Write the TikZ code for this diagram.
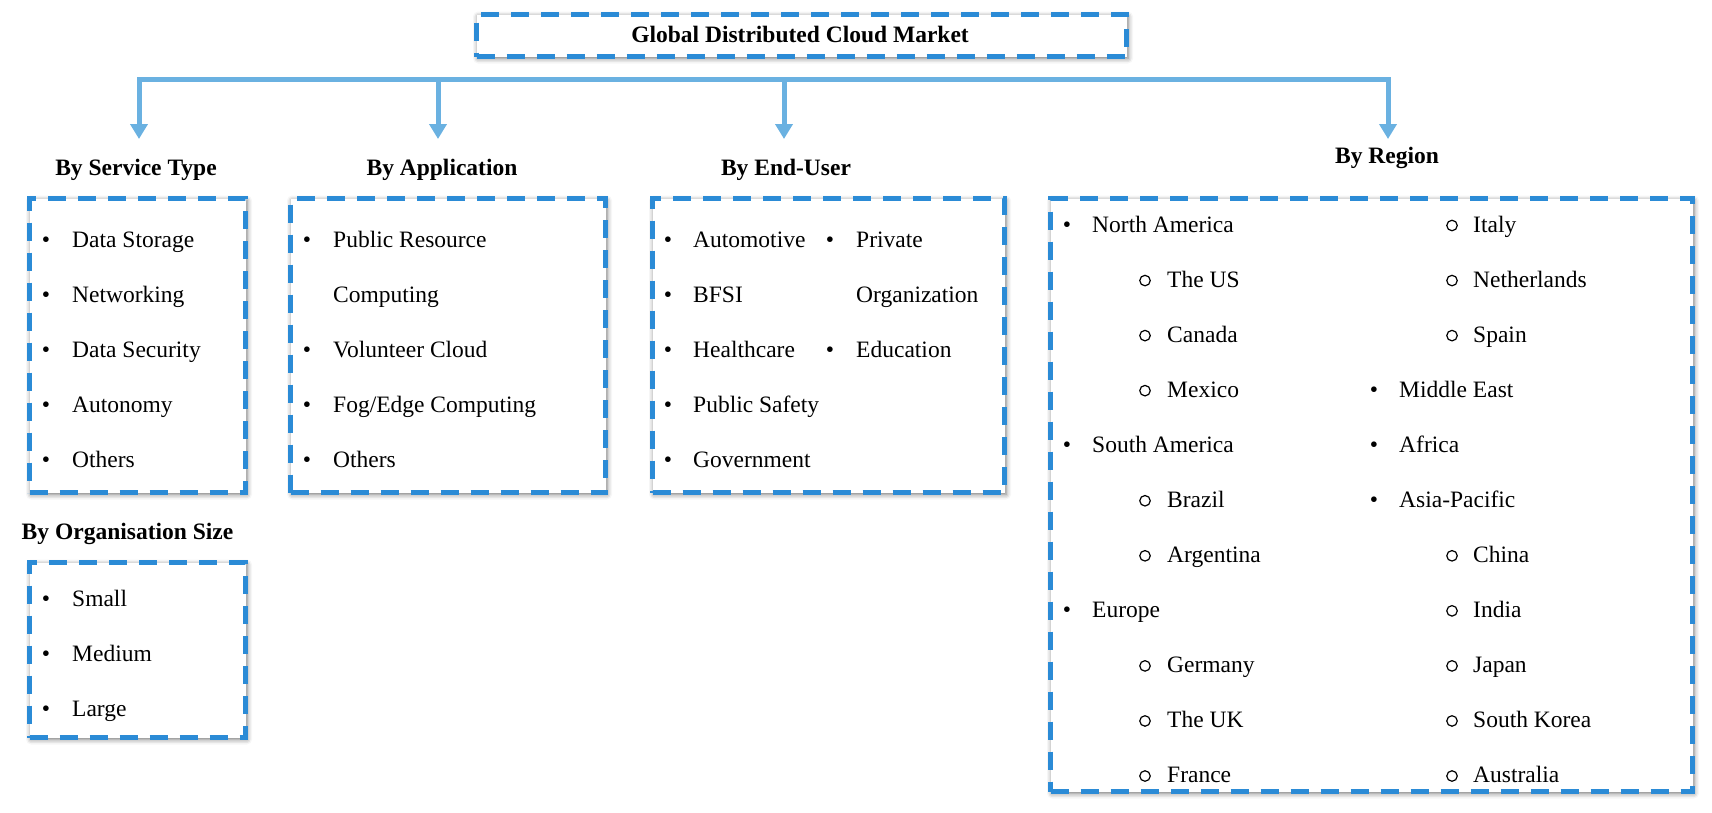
\documentclass[tikz,border=0pt]{standalone}
\usepackage{fontspec}
\setmainfont{Liberation Serif}
\usetikzlibrary{arrows.meta,shadows.blur}
\definecolor{dashblue}{HTML}{2B8BD6}
\definecolor{arrblue}{HTML}{6AB1E1}
\begin{document}
\begin{tikzpicture}[x=1pt,y=-1pt,
  every node/.style={font=\fontsize{23.5pt}{28pt}\selectfont, inner sep=0pt},
  box/.style={draw=dashblue, line width=5pt, dash pattern=on 18pt off 12pt, fill=white, anchor=north west,
    blur shadow={shadow xshift=1.5pt, shadow yshift=-2pt, shadow blur radius=5pt, shadow opacity=55}},
  head/.style={font=\fontsize{23.5pt}{28pt}\selectfont\bfseries, anchor=base},
  item/.style={anchor=base west},
  bul/.style={anchor=base},
  sub/.style={circle, draw=black, line width=1.2pt, minimum size=10.5pt},
  arr/.style={draw=arrblue, line width=5pt, -{Triangle[width=17pt,length=15pt]}}
]
\useasboundingbox (0,0) rectangle (1712,812);

% title
\node[box, minimum width=650pt, minimum height=42pt] (titlebox) at (474,12) {};
\node[head] (title) at (800,42) {Global Distributed Cloud Market};

% connectors
\coordinate (a1) at (139,79);
\coordinate (a2) at (438,79);
\coordinate (a3) at (784,79);
\coordinate (a4) at (1388,79);
\coordinate (e1) at (139,139);
\coordinate (e2) at (438,139);
\coordinate (e3) at (784,139);
\coordinate (e4) at (1388,139);
\draw[arr] (a4) -| (e1);
\draw[arr] (a1) -| (e4);
\draw[arr] (a2) -- (e2);
\draw[arr] (a3) -- (e3);

% headings
\node[head] (hsvc) at (136,175) {By Service Type};
\node[head] (happ) at (442,175) {By Application};
\node[head] (hend) at (786,175) {By End-User};
\node[head] (hreg) at (1387,163) {By Region};
\node[head] (horg) at (127.5,539) {By Organisation Size};

% boxes
\node[box, minimum width=216pt, minimum height=294pt] (svc) at (27,196) {};
\node[box, minimum width=315pt, minimum height=294pt] (app) at (288,196) {};
\node[box, minimum width=352pt, minimum height=294pt] (end) at (650,196) {};
\node[box, minimum width=642pt, minimum height=593pt] (reg) at (1048,196) {};
\node[box, minimum width=216pt, minimum height=175pt] (org) at (27,560) {};

% service type
\foreach \t [count=\i from 0] in {Data Storage,Networking,Data Security,Autonomy,Others}{
  \node[bul] (svcb\i) at (46,247+55.1*\i) {\textbullet};
  \node[item] (svct\i) at (72,247+55.1*\i) {\t};
}
% organisation
\foreach \t [count=\i from 0] in {Small,Medium,Large}{
  \node[bul] (orgb\i) at (46,606+55.1*\i) {\textbullet};
  \node[item] (orgt\i) at (72,606+55.1*\i) {\t};
}
% application
\foreach \t/\b [count=\i from 0] in {Public Resource/1,Computing/0,Volunteer Cloud/1,{Fog/Edge Computing}/1,Others/1}{
  \ifnum\b=1 \node[bul] (appb\i) at (307,247+55.1*\i) {\textbullet};\fi
  \node[item] (appt\i) at (333,247+55.1*\i) {\t};
}
% end-user
\foreach \t [count=\i from 0] in {Automotive,BFSI,Healthcare,Public Safety,Government}{
  \node[bul] (endb\i) at (668,247+55.1*\i) {\textbullet};
  \node[item] (endt\i) at (693,247+55.1*\i) {\t};
}
\node[bul] (endc0) at (830,247) {\textbullet};
\node[item] (endd0) at (856,247) {Private};
\node[item] (endd1) at (856,302.1) {Organization};
\node[bul] (endc2) at (830,357.2) {\textbullet};
\node[item] (endd2) at (856,357.2) {Education};

% region column 1
\foreach \t/\l [count=\i from 0] in {North America/0,The US/1,Canada/1,Mexico/1,South America/0,Brazil/1,Argentina/1,Europe/0,Germany/1,The UK/1,France/1}{
  \ifnum\l=0
    \node[bul] (rab\i) at (1067,232+55.05*\i) {\textbullet};
    \node[item] (rat\i) at (1092,232+55.05*\i) {\t};
  \else
    \node[sub] (rab\i) at (1145,225.5+55.05*\i) {};
    \node[item] (rat\i) at (1167,232+55.05*\i) {\t};
  \fi
}
% region column 2
\foreach \t/\l [count=\i from 0] in {Italy/1,Netherlands/1,Spain/1,Middle East/0,Africa/0,Asia-Pacific/0,China/1,India/1,Japan/1,South Korea/1,Australia/1}{
  \ifnum\l=0
    \node[bul] (rbb\i) at (1374,232+55.05*\i) {\textbullet};
    \node[item] (rbt\i) at (1399,232+55.05*\i) {\t};
  \else
    \node[sub] (rbb\i) at (1452,225.5+55.05*\i) {};
    \node[item] (rbt\i) at (1473,232+55.05*\i) {\t};
  \fi
}
\end{tikzpicture}
\end{document}
